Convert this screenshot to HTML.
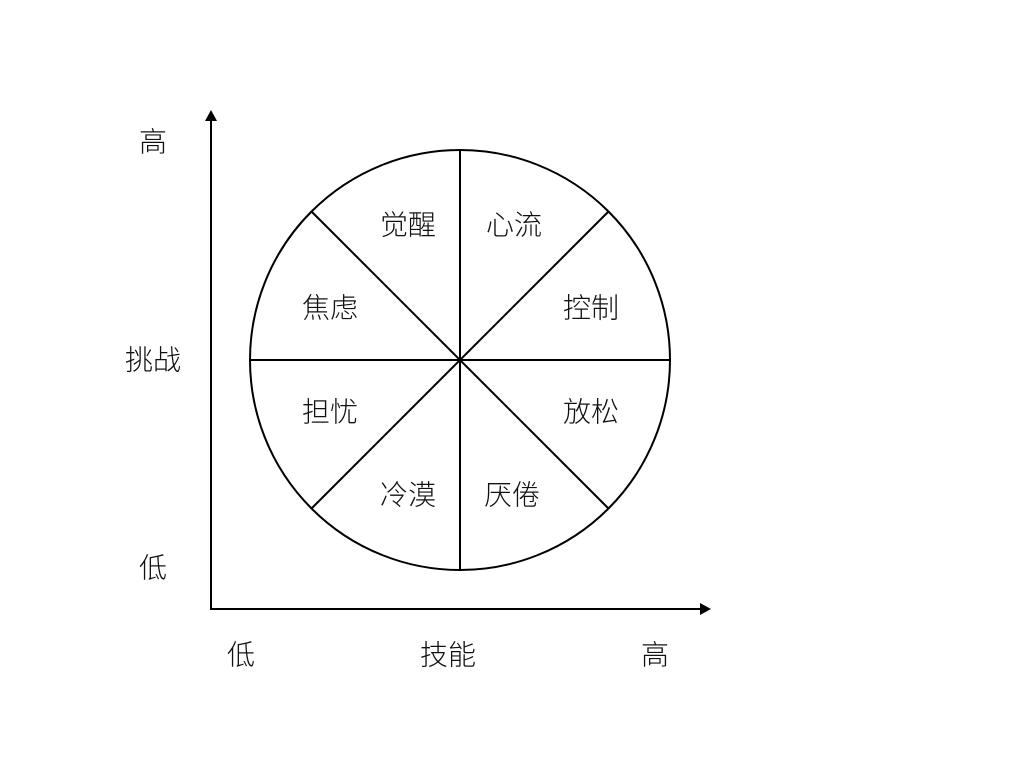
<!DOCTYPE html>
<html><head><meta charset="utf-8"><style>
html,body{margin:0;padding:0;background:#fff;}
svg text{font-family:"Liberation Sans","Noto Sans CJK SC",sans-serif;font-size:28px;font-weight:300;fill:#111;text-anchor:middle;dominant-baseline:central;}
</style></head><body>
<svg width="1024" height="768" viewBox="0 0 1024 768" xmlns="http://www.w3.org/2000/svg">
<rect width="1024" height="768" fill="#fff"/>
<g stroke="#000" stroke-width="2" fill="none">
<line x1="211" y1="118" x2="211" y2="609"/>
<line x1="210" y1="609" x2="702" y2="609"/>
<circle cx="460" cy="360" r="210"/>
<line x1="460" y1="150" x2="460" y2="570"/>
<line x1="250" y1="360" x2="670" y2="360"/>
<line x1="312" y1="212" x2="608" y2="508"/>
<line x1="608" y1="212" x2="312" y2="508"/>
</g>
<polygon points="211,110 205,121 217,121" fill="#000"/>
<polygon points="711,609 700,603 700,615" fill="#000"/>
<text x="153" y="142">高</text>
<text x="153" y="360">挑战</text>
<text x="153" y="568">低</text>
<text x="241" y="655">低</text>
<text x="448" y="655">技能</text>
<text x="655" y="655">高</text>
<text x="408" y="225">觉醒</text>
<text x="514" y="225">心流</text>
<text x="330" y="308">焦虑</text>
<text x="591" y="308">控制</text>
<text x="330" y="412">担忧</text>
<text x="591" y="412">放松</text>
<text x="408" y="495">冷漠</text>
<text x="512" y="495">厌倦</text>
</svg>
</body></html>
